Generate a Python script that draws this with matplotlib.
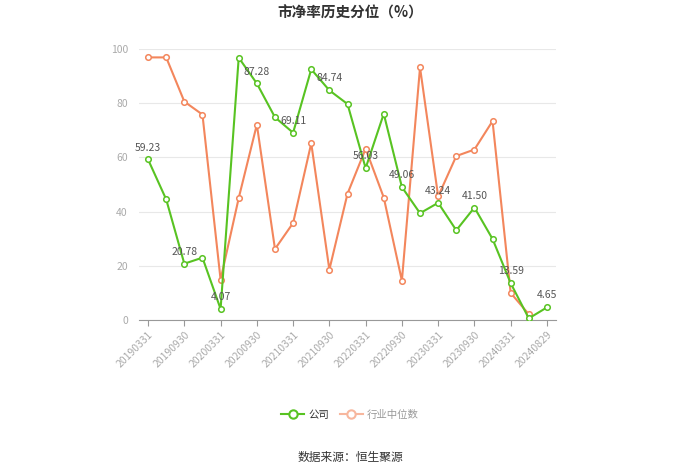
import matplotlib
matplotlib.use("Agg")
import matplotlib.pyplot as plt
import numpy as np
from matplotlib.lines import Line2D

plt.rcParams["font.family"] = ["Noto Sans CJK SC", "DejaVu Sans"]

# ── Data ────────────────────────────────────────────────────────────────
DATES = [
    "20190331", "20190630", "20190930", "20191231",
    "20200331", "20200630", "20200930", "20201231",
    "20210331", "20210630", "20210930", "20211231",
    "20220331", "20220630", "20220930", "20221231",
    "20230331", "20230630", "20230930", "20231231",
    "20240331", "20240630", "20240829",
]
COMPANY = [59.23, 44.5, 20.78, 23.0, 4.07, 96.8, 87.28, 74.8, 69.11, 92.5,
           84.74, 79.7, 56.03, 76.1, 49.06, 39.4, 43.24, 33.1, 41.50, 29.9,
           13.59, 0.6, 4.65]
INDUSTRY = [96.9, 96.9, 80.6, 75.8, 14.9, 45.0, 72.1, 26.2, 35.8, 65.2,
            18.6, 46.6, 63.2, 45.2, 14.5, 93.2, 45.6, 60.5, 62.9, 73.4,
            10.0, 2.1, None]

GREEN = "#58c322"
ORANGE = "#f3865c"

fig = plt.figure(figsize=(7, 4.74), dpi=100)
ax = fig.add_axes([139 / 700, 1 - 320 / 474, (556 - 139) / 700, (320 - 49) / 474])

x = np.arange(len(DATES))
ind = np.array([np.nan if v is None else v for v in INDUSTRY])

ax.plot(x, ind, color=ORANGE, lw=1.5, marker="o", ms=4,
        mfc="white", mec=ORANGE, mew=1.1, zorder=3)
ax.plot(x, COMPANY, color=GREEN, lw=1.5, marker="o", ms=4,
        mfc="white", mec=GREEN, mew=1.1, zorder=4)

# value labels on every other company point
for i in range(0, len(COMPANY), 2):
    ax.annotate(f"{COMPANY[i]:.2f}", (x[i], COMPANY[i]), xytext=(0, 5),
                textcoords="offset points", ha="center", va="bottom",
                fontsize=7.5, color="#555555", zorder=5)

ax.set_xlim(-0.5, len(DATES) - 0.5)
ax.set_ylim(0, 100)
ax.set_yticks([0, 20, 40, 60, 80, 100])
ax.set_xticks(x[::2])
ax.set_xticklabels(DATES[::2], rotation=45, ha="right", rotation_mode="anchor",
                   fontsize=7.5, color="#aaaaaa")
ax.tick_params(axis="y", length=0, labelsize=7.5, labelcolor="#aaaaaa", pad=8)
ax.tick_params(axis="x", length=4, color="#999999", pad=3)

ax.grid(axis="y", color="#e8e8e8", lw=0.8)
ax.set_axisbelow(True)
for side in ["top", "right", "left"]:
    ax.spines[side].set_visible(False)
ax.spines["bottom"].set_color("#999999")

fig.text(0.5, 1 - 13 / 474, "市净率历史分位（%）", ha="center", va="center",
         fontsize=10.5, fontweight="bold", color="#333333")

handles = [
    Line2D([], [], color=GREEN, lw=1.5, marker="o", ms=6, mfc="white", mec=GREEN, mew=1.5),
    Line2D([], [], color="#f7b79e", lw=1.5, marker="o", ms=6, mfc="white", mec="#f7b79e", mew=1.5),
]
leg = fig.legend(handles, ["公司", "行业中位数"], loc="center", ncol=2,
                 bbox_to_anchor=(0.5, 1 - 415 / 474), frameon=False,
                 fontsize=7.5, handlelength=2.2, columnspacing=1.0, handletextpad=0.4)
leg.get_texts()[0].set_color("#333333")
leg.get_texts()[1].set_color("#999999")

fig.text(0.5, 1 - 457 / 474, "数据来源：恒生聚源", ha="center", va="center",
         fontsize=8.5, color="#333333")

fig.savefig("out.png", dpi=100)
